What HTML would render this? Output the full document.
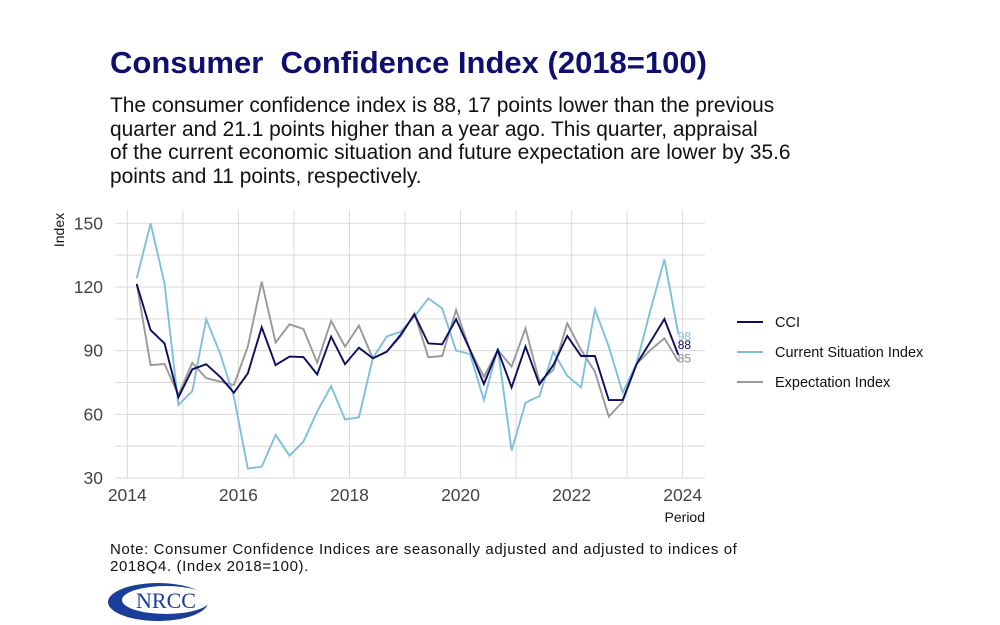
<!DOCTYPE html>
<html><head><meta charset="utf-8"><style>
body{margin:0;width:1000px;height:625px;background:#fff;font-family:"Liberation Sans",sans-serif;overflow:hidden;position:relative}
.t{position:absolute;margin:0;white-space:nowrap}
</style></head><body>
<h1 class="t" style="left:110px;top:45px;font-size:31px;font-weight:bold;color:#0f0f6e;white-space:pre">Consumer  Confidence Index (2018=100)</h1>
<p class="t" style="left:110px;top:94px;font-size:20.9px;line-height:23.7px;color:#111">The consumer confidence index is 88, 17 points lower than the previous<br>quarter and 21.1 points higher than a year ago. This quarter, appraisal<br>of the current economic situation and future expectation are lower by 35.6<br>points and 11 points, respectively.</p>
<svg id="chart" width="1000" height="625" style="position:absolute;left:0;top:0" font-family="Liberation Sans, sans-serif"></svg>
<p class="t" style="left:110px;top:542px;font-size:15px;letter-spacing:0.6px;line-height:16.5px;color:#111">Note: Consumer Confidence Indices are seasonally adjusted and adjusted to indices of<br>2018Q4. (Index 2018=100).</p>
<svg width="110" height="44" style="position:absolute;left:106px;top:580px">
<ellipse cx="52" cy="22" rx="50" ry="19" fill="#1b3e9a"/>
<ellipse cx="60" cy="20" rx="44" ry="14" fill="#fff"/>
<text x="60" y="28" text-anchor="middle" font-family="Liberation Serif, serif" font-size="22" fill="#1b3e9a">NRCC</text>
</svg>
<script>
const years=[2014,2016,2018,2020,2022,2024];
const yTicks=[30,60,90,120,150];
const cci=[121.4,99.7,93.4,68,81.2,83.6,77.7,70.2,79.3,101,83.2,87.2,87,78.8,96.6,83.6,91.4,86.4,89.5,97.4,107.1,93.4,93,104.8,90.3,74.3,90.3,72.7,91.9,74.1,83.2,96.9,87.5,87.5,66.7,66.7,83.7,94.2,104.9,88];
const csi=[124,150,121.7,64.4,71,104.8,88.7,68.3,34.5,35.3,50.3,40.5,47.1,61.3,73.3,57.6,58.6,86.4,96.6,98.9,106,114.6,109.9,90,88.4,66.7,91.1,42.9,65.5,68.6,89.5,78.2,72.7,109.5,91.9,70.2,84,109.2,133,98];
const exi=[121.4,83.2,83.7,69.1,84.3,77,75.4,73.8,91.9,122.5,93.8,102.4,100.2,84.3,104,91.9,101.8,86.4,89.5,96.6,107.6,86.9,87.5,109.2,90.3,77.7,90.3,82.5,100.5,75.4,80.9,102.9,90.3,80.1,58.9,66,83.7,90.3,95.8,85];
const NS="http://www.w3.org/2000/svg",svg=document.getElementById('chart');
const X=t=>127.3+(t-2014)*55.54, Y=v=>478-(v-30)*2.1225;
const tq=i=>2014.17+0.25*i;
function mk(tag,a,txt){const e=document.createElementNS(NS,tag);for(const k in a)e.setAttribute(k,a[k]);if(txt!==undefined)e.textContent=txt;svg.appendChild(e);return e;}
for(let v=30;v<=150;v+=15){const l=mk('line',{x1:115,x2:705,y1:Y(v),y2:Y(v),stroke:'#d9d9d9','stroke-width':1});

}
for(let y=2014;y<=2024;y++){const l=mk('line',{x1:X(y),x2:X(y),y1:210,y2:478,stroke:'#d9d9d9','stroke-width':1});

}
yTicks.forEach(v=>{const t=mk('text',{x:103,y:Y(v)+6,'text-anchor':'end','font-size':17.5,fill:'#444'},v);

});
years.forEach(y=>{const t=mk('text',{x:X(y),y:501,'text-anchor':'middle','font-size':17.5,fill:'#444'},y);

});
const yt=mk('text',{x:0,y:0,transform:'translate(64,230) rotate(-90)','text-anchor':'middle','font-size':14,fill:'#111'},'Index');


const xt=mk('text',{x:705,y:522,'text-anchor':'end','font-size':14,fill:'#111'},'Period');


const series=[[exi,'#999999','expectation-index-line'],[csi,'#7ec0da','current-situation-line'],[cci,'#0d0d5e','cci-line']];
series.forEach(([d,c,n])=>{const p=mk('polyline',{points:d.map((v,i)=>X(tq(i)).toFixed(1)+','+Y(v).toFixed(1)).join(' '),fill:'none',stroke:c,'stroke-width':1.9});

});
const last=[[csi,'#7ec0da',7],[cci,'#0d0d5e',-6],[exi,'#888',1]];
last.forEach(([d,c,dy])=>{const v=d[d.length-1];const t=mk('text',{x:X(tq(d.length-1))-0.5,y:Y(v)+dy,'font-size':12,fill:c},Math.round(v));

});
const leg=[['CCI','#0d0d5e'],['Current Situation Index','#7ec0da'],['Expectation Index','#999999']];
leg.forEach(([n,c],i)=>{const y=322+i*30;
const l=mk('line',{x1:737,x2:763,y1:y,y2:y,stroke:c,'stroke-width':2});


const t=mk('text',{x:775,y:y+5,'font-size':14.5,fill:'#111'},n);

});
</script>
</body></html>
